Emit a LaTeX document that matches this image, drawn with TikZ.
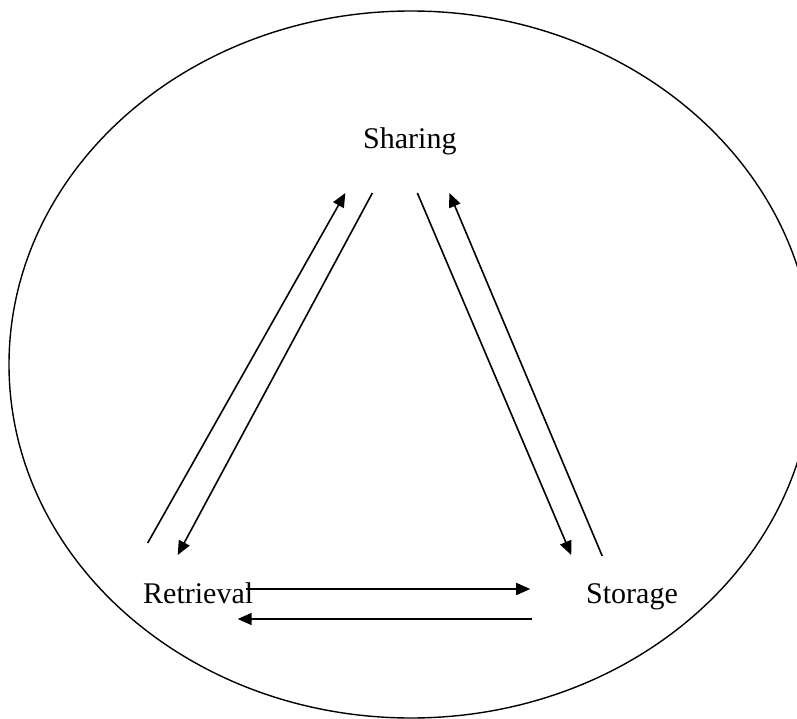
\documentclass[tikz,border=0pt]{standalone}
\usepackage{fontspec}
\setmainfont{Liberation Serif}
\usetikzlibrary{arrows.meta}
\begin{document}
\begin{tikzpicture}[x=1pt,y=-1pt,line cap=butt,line join=miter,
  label/.style={inner sep=0pt,anchor=base west,font=\fontsize{30}{36}\selectfont},
  flow/.style={line width=1.6pt,-{Triangle[length=14pt,width=12pt]}}]
\useasboundingbox (0,0) rectangle (797,719);
\clip (0,0) rectangle (797,719);
\draw[line width=1.4pt] (411,364.5) ellipse [x radius=402,y radius=353.5];
\node[label] (sharing) at (363,149) {Sharing};
\node[label] (retrieval) at (143,603) {Retrieval};
\node[label] (storage) at (586,603) {Storage};
% sides of the triangle
\draw[flow] ([shift={(-50.5,-60)}]retrieval.base) -- ([shift={(-64.5,44)}]sharing.base);
\draw[flow] ([shift={(-37.5,44)}]sharing.base) -- ([shift={(-20.5,-48)}]retrieval.base);
\draw[flow] ([shift={(7.5,44)}]sharing.base) -- ([shift={(-60.8,-48)}]storage.base);
\draw[flow] ([shift={(-29.8,-47)}]storage.base) -- ([shift={(39.5,44)}]sharing.base);
\draw[flow] ([shift={(47.5,-14)}]retrieval.base) -- ([shift={(-101.8,-14)}]storage.base);
\draw[flow] ([shift={(-99.8,16)}]storage.base) -- ([shift={(39.5,16)}]retrieval.base);
\end{tikzpicture}
\end{document}
